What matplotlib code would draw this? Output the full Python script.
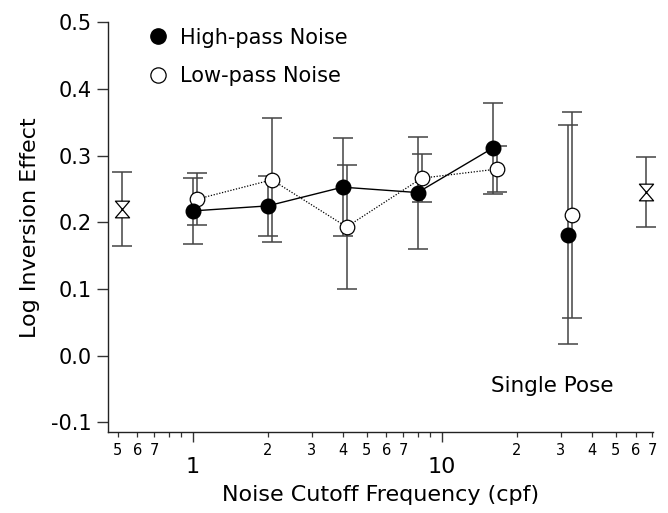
import numpy as np
import matplotlib
matplotlib.use("Agg")
import matplotlib.pyplot as plt
from matplotlib.path import Path
from matplotlib.lines import Line2D
from matplotlib.ticker import FixedLocator, FixedFormatter

# values
hp_x = [1.0, 2.0, 4.0, 8.0, 16.0, 32.0]
hp_y = [0.217, 0.2245, 0.2526, 0.2445, 0.311, 0.181]
hp_err = [0.050, 0.045, 0.0734, 0.084, 0.068, 0.164]

lp_x = [1.04, 2.08, 4.15, 8.3, 16.6, 33.3]
lp_y = [0.2346, 0.2636, 0.193, 0.266, 0.2796, 0.211]
lp_err = [0.039, 0.093, 0.0934, 0.036, 0.034, 0.154]

# points joined by the lines (the last cutoff stands alone)
n_joined = 5

ref_x = [0.52, 66.0]
ref_y = [0.2196, 0.246]
ref_err = [0.055, 0.0525]

major_ticks = [1, 10]
major_labels = ["1", "10"]
minor_ticks = [0.5, 0.6, 0.7, 0.8, 0.9, 2, 3, 4, 5, 6, 7, 8, 9,
               20, 30, 40, 50, 60, 70]
minor_labels = ["5", "6", "7", "", "", "2", "3", "4", "5", "6", "7", "", "",
                "2", "3", "4", "5", "6", "7"]
y_ticks = [-0.1, 0.0, 0.1, 0.2, 0.3, 0.4, 0.5]

plt.rcParams['font.family'] = ['DejaVu Sans']

fig = plt.figure(figsize=(6.68, 5.13), dpi=100)
ax = fig.add_axes([0.162, 0.157, 0.8155, 0.8])

bar_color = '#444444'

# hourglass marker for the reference (no noise) condition
hourglass = Path([(-0.85, 1), (0.85, 1), (-0.85, -1), (0.85, -1), (-0.85, 1)],
                 [Path.MOVETO, Path.LINETO, Path.LINETO, Path.LINETO, Path.CLOSEPOLY])

# error bars
ax.errorbar(lp_x, lp_y, yerr=lp_err, fmt='none', ecolor=bar_color,
            elinewidth=1.1, capsize=7, capthick=1.1, zorder=2)
ax.errorbar(hp_x, hp_y, yerr=hp_err, fmt='none', ecolor=bar_color,
            elinewidth=1.1, capsize=7, capthick=1.1, zorder=2)
ax.errorbar(ref_x, ref_y, yerr=ref_err, fmt='none', ecolor=bar_color,
            elinewidth=1.1, capsize=7, capthick=1.1, zorder=2, clip_on=False)

# connecting lines
ax.plot(lp_x[:n_joined], lp_y[:n_joined], color='black', lw=0.9,
        ls=(0, (1.0, 1.3)), zorder=3)
ax.plot(hp_x[:n_joined], hp_y[:n_joined], color='black', lw=1.0, zorder=3)

# markers
ax.plot(lp_x, lp_y, 'o', ms=10.5, mfc='white', mec='black', mew=0.9, zorder=4)
ax.plot(hp_x, hp_y, 'o', ms=10.5, mfc='black', mec='black', zorder=5)
ax.plot(ref_x, ref_y, ls='none', marker=hourglass, ms=12, mfc='white',
        mec='black', mew=0.9, zorder=5, clip_on=False)

ax.set_xscale('log')
ax.set_xlim(0.458, 70.5)
ax.set_ylim(-0.115, 0.5)

ax.xaxis.set_major_locator(FixedLocator(major_ticks))
ax.xaxis.set_major_formatter(FixedFormatter(major_labels))
ax.xaxis.set_minor_locator(FixedLocator(minor_ticks))
ax.xaxis.set_minor_formatter(FixedFormatter(minor_labels))
ax.tick_params(axis='x', which='major', length=7.5, width=1.0, labelsize=16,
               pad=10, color='#333333')
ax.tick_params(axis='x', which='minor', length=3.8, width=0.9, labelsize=10.5,
               pad=4, color='#333333')

ax.set_yticks(y_ticks)
ax.set_yticklabels(["-0.1", "0.0", "0.1", "0.2", "0.3", "0.4", "0.5"])
ax.tick_params(axis='y', length=8, width=1.0, labelsize=15, pad=4,
               color='#333333')

for side in ['top', 'right']:
    ax.spines[side].set_visible(False)
for side in ['left', 'bottom']:
    ax.spines[side].set_linewidth(1.0)
    ax.spines[side].set_color('#222222')

ax.set_xlabel('Noise Cutoff Frequency (cpf)', fontsize=16, labelpad=6)
ax.set_ylabel('Log Inversion Effect', fontsize=16, labelpad=8)

ax.text(0.815, 0.113, 'Single Pose', transform=ax.transAxes, fontsize=15.5,
        ha='center', va='center')

handles = [
    Line2D([], [], ls='none', marker='o', ms=11, mfc='black', mec='black'),
    Line2D([], [], ls='none', marker='o', ms=11, mfc='white', mec='black', mew=0.9),
]
ax.legend(handles, ['High-pass Noise', 'Low-pass Noise'], loc='upper left',
          bbox_to_anchor=(0.05, 1.017), frameon=False, fontsize=15,
          handlelength=1.0, handletextpad=0.55, labelspacing=0.88,
          borderaxespad=0.2)

fig.savefig('out.png', dpi=100)
